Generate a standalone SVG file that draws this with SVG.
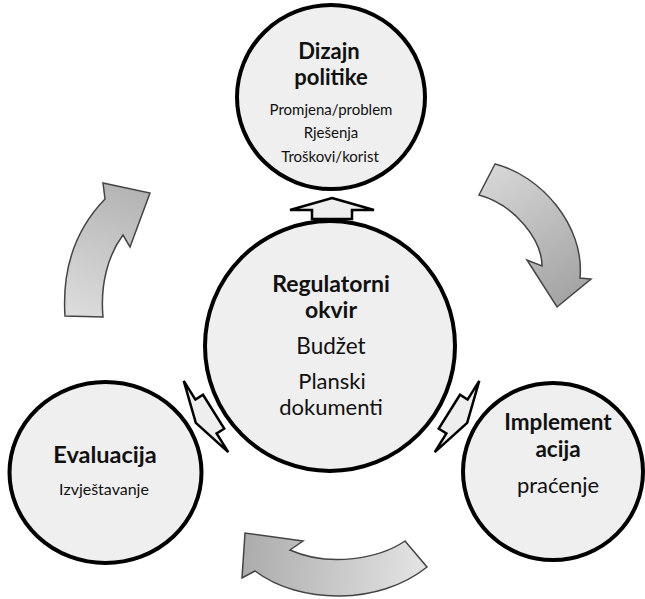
<svg xmlns="http://www.w3.org/2000/svg" width="645" height="599" viewBox="0 0 645 599">
<defs>
<style>
.node{fill:#efefef;stroke:#000;stroke-width:4}
.t{font-family:Lato,"Open Sans","Liberation Sans",sans-serif;fill:#111;text-anchor:middle}
.b{font-weight:bold}
.cyc{stroke:#444;stroke-width:1.5;stroke-linejoin:miter}
.link{fill:#eeeeee;stroke:#000;stroke-width:2.5;stroke-linejoin:miter}
</style>
<linearGradient id="gTL" gradientUnits="userSpaceOnUse" x1="80" y1="317" x2="135" y2="190">
<stop offset="0" stop-color="#dcdcdc"/><stop offset="1" stop-color="#b4b4b4"/>
</linearGradient>
<linearGradient id="gTR" gradientUnits="userSpaceOnUse" x1="485" y1="175" x2="565" y2="300">
<stop offset="0" stop-color="#d6d6d6"/><stop offset="1" stop-color="#a4a4a4"/>
</linearGradient>
<linearGradient id="gB" gradientUnits="userSpaceOnUse" x1="420" y1="560" x2="245" y2="550">
<stop offset="0" stop-color="#e2e2e2"/><stop offset="1" stop-color="#acacac"/>
</linearGradient>
<path id="sm" d="M0,-12 L42,0 L20,0 L20,9 L-20,9 L-20,0 L-42,0 Z"/>
</defs>

<g id="connectors">
<path class="cyc" fill="url(#gTL)" d="M65,316 C62,270 75,230 105,199 L103,183 L150,193 L130,247 L123,235 C108,255 100,285 103,317 Z"/>
<path class="cyc" fill="url(#gTR)" d="M495,164 C540,175 585,225 580,278 L591,279 L557,307 L527,260 L542,266 C542,240 515,205 479,195 Z"/>
<path class="cyc" fill="url(#gB)" d="M405,541 C380,558 330,568 290,550 L303,541 L245,533 L242,578 L255,571 C300,605 380,605 427,567 Z"/>
<use href="#sm" class="link" transform="translate(332,210)"/>
<use href="#sm" class="link" transform="translate(206,416.5) rotate(-122)"/>
<use href="#sm" class="link" transform="translate(457,416.5) rotate(122)"/>
</g>

<g id="dizajn">
<ellipse class="node" cx="331" cy="97" rx="94" ry="92"/>
<text class="t b" x="329" y="59" font-size="22">Dizajn</text>
<text class="t b" x="331" y="85" font-size="22">politike</text>
<text class="t" x="331" y="115" font-size="15">Promjena/problem</text>
<text class="t" x="331" y="138" font-size="15">Rješenja</text>
<text class="t" x="330" y="162" font-size="15">Troškovi/korist</text>
</g>

<g id="okvir">
<circle class="node" cx="330" cy="346" r="125"/>
<text class="t b" x="331" y="292" font-size="23">Regulatorni</text>
<text class="t b" x="331" y="318" font-size="23">okvir</text>
<text class="t" x="331" y="354" font-size="22.5">Budžet</text>
<text class="t" x="332" y="389" font-size="22">Planski</text>
<text class="t" x="331" y="415" font-size="22">dokumenti</text>
</g>

<g id="evaluacija">
<ellipse class="node" cx="105.5" cy="472.5" rx="96" ry="90.5"/>
<text class="t b" x="105" y="463" font-size="23.5">Evaluacija</text>
<text class="t" x="104" y="495" font-size="16">Izvještavanje</text>
</g>

<g id="implementacija">
<ellipse class="node" cx="553" cy="471.5" rx="90" ry="88.5"/>
<text class="t b" x="558" y="430" font-size="22.5">Implement</text>
<text class="t b" x="558" y="457" font-size="22.5">acija</text>
<text class="t" x="558" y="493" font-size="22">praćenje</text>
</g>
</svg>
